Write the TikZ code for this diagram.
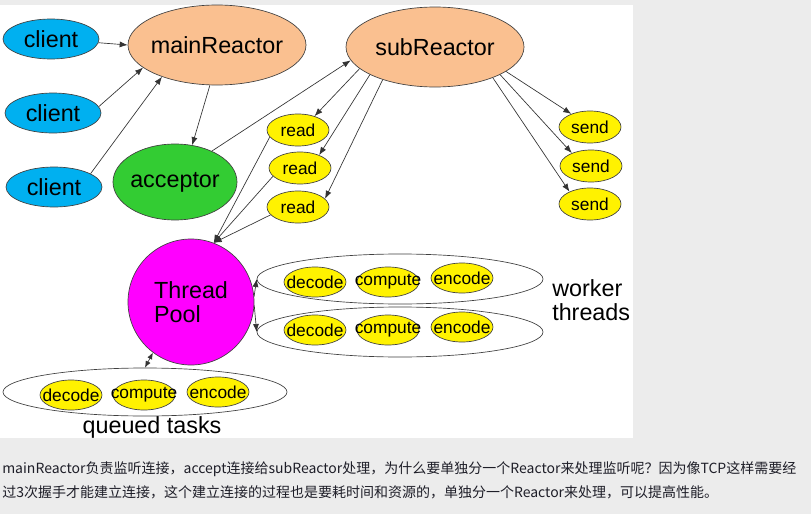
\documentclass[tikz,border=0pt]{standalone}
\usepackage{fontspec}
\setmainfont{Liberation Sans}
\newfontfamily\cjk{Noto Sans CJK SC}
\usepackage{tikz}
\usetikzlibrary{shapes.geometric, arrows.meta}

\definecolor{clientblue}{RGB}{0,176,240}
\definecolor{peach}{RGB}{250,192,144}
\definecolor{accgreen}{RGB}{51,204,51}
\definecolor{poolpink}{RGB}{255,0,255}
\definecolor{pagegray}{RGB}{236,236,236}
\definecolor{notetext}{RGB}{30,30,40}

\begin{document}
\begin{tikzpicture}[
    x=0.75pt, y=-0.75pt,
    bubble/.style={draw=black!75, line width=0.5pt, shape=ellipse,
      inner xsep=-30pt, inner ysep=0pt, font=\fontsize{17.5}{18}\selectfont},
    client/.style={bubble, fill=clientblue, minimum width=72pt, minimum height=30pt},
    reactor/.style={bubble, fill=peach, minimum width=133.5pt, minimum height=60pt},
    io/.style={bubble, fill=yellow, minimum width=46.5pt, minimum height=24pt,
      font=\fontsize{13}{14}\selectfont},
    task/.style={io, minimum height=22.5pt},
    thread/.style={draw=black!75, line width=0.5pt, shape=ellipse, fill=white,
      minimum width=214.5pt, minimum height=37.5pt},
    bigtext/.style={inner sep=0pt, align=left, font=\fontsize{17.5}{18}\selectfont},
    arrow/.style={draw=black!80, line width=0.5pt, -{Latex[length=6pt,width=4.5pt]}},
    dblarrow/.style={arrow, {Latex[length=5pt,width=4pt]}-{Latex[length=5pt,width=4pt]}}
]
% page and white canvas
\useasboundingbox (0,0) rectangle (811,514);
\fill[pagegray] (0,0) rectangle (811,514);
\fill[white] (0,5) rectangle (633,438);

% reactors and clients
\node[client] (client1) at (51,39) {client};
\node[client] (client2) at (53,113) {client};
\node[client] (client3) at (54,187) {client};
\node[reactor] (mainR) at (217,45) {mainReactor};
\node[bubble, fill=accgreen, minimum width=93pt, minimum height=57pt] (acceptor) at (175,182) {acceptor};
\node[reactor] (subR) at (435,47) {subReactor};

\node[io] (read1) at (298,130) {read};
\node[io] (read2) at (300,168) {read};
\node[io] (read3) at (298,207) {read};
\node[io] (send1) at (590,127) {send};
\node[io] (send2) at (591,166) {send};
\node[io] (send3) at (590,204) {send};

% thread pool
\node[draw=black!75, line width=0.5pt, circle, fill=poolpink, minimum size=94.5pt,
  bigtext] (pool) at (191,302) {Thread\\Pool};

\node[thread] (worker1) at (400,279) {};
\node[thread] (worker2) at (400,332) {};
\node[thread, minimum width=213pt, minimum height=36pt] (queue) at (145,392) {};

\foreach \job/\x/\y in {decode/315/282, compute/388/282, encode/462/278} {
  \node[task] (wa\job) at (\x,\y) {\job};
}
\foreach \job/\x/\y in {decode/315/330, compute/388/330, encode/462/327} {
  \node[task] (wb\job) at (\x,\y) {\job};
}
\foreach \job/\x/\y in {decode/71/395, compute/144/395, encode/218/392} {
  \node[task] (q\job) at (\x,\y) {\job};
}

\node[bigtext, anchor=west] (workerlbl) at (552,300) {worker\\threads};
\node[bigtext] (queuelbl) at (152,427) {queued tasks};

% connectors
\draw[arrow] (client1) -- (mainR.180);
\draw[arrow] (client2.8) -- (mainR.197);
\draw[arrow] (client3.20) -- (mainR.210);
\draw[arrow] (mainR.260) -- (acceptor.65);
\draw[arrow] (acceptor.40) -- (subR.189);
\draw[arrow] (subR.196) -- (read1.40);
\draw[arrow] (subR.203) -- (read2.34);
\draw[arrow] (subR.212) -- (read3.17);
\draw[arrow] (subR.341) -- (send1.145);
\draw[arrow] (subR.337) -- (send2.146);
\draw[arrow] (subR.332) -- (send3.149);
\draw[arrow] (read1.194) -- (pool.69);
\draw[arrow] (read2.197) -- (pool.69);
\draw[arrow] (read3.196) -- (pool.69);
\draw[arrow] (pool.5) -- (worker1.west);
\draw[arrow] (pool.-3) -- (worker2.west);
\draw[dblarrow] (queue.north) -- (pool.233);

% note below the figure
\node[anchor=west, inner sep=0pt, text=notetext, font=\cjk\fontsize{10.5}{12}\selectfont] (note1) at (2,469)
  {mainReactor负责监听连接，accept连接给subReactor处理，为什么要单独分一个Reactor来处理监听呢？因为像TCP这样需要经};
\node[anchor=west, inner sep=0pt, text=notetext, font=\cjk\fontsize{10.5}{12}\selectfont] (note2) at (2,492)
  {过3次握手才能建立连接，这个建立连接的过程也是要耗时间和资源的，单独分一个Reactor来处理，可以提高性能。};
\end{tikzpicture}
\end{document}
